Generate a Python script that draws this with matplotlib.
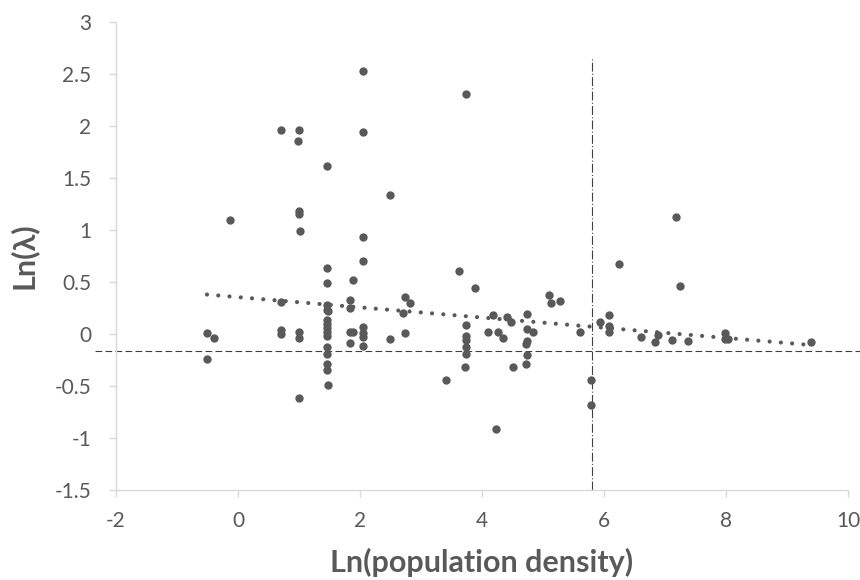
import numpy as np
import matplotlib.pyplot as plt

# values
ln_density = [
    -0.51, -0.39, -0.51, -0.13, 0.70, 0.70, 0.70, 0.70, 1.00, 0.99,
    1.00, 1.00, 1.02, 1.00, 1.00, 1.00, 1.45, 1.45, 1.45, 1.45,
    1.45, 1.47, 1.45, 1.45, 1.45, 1.45, 1.45, 1.45, 1.45, 1.45,
    1.45, 1.47, 1.83, 1.83, 1.89, 1.83, 1.89, 1.83, 2.05, 2.05,
    2.05, 2.05, 2.05, 2.05, 2.05, 2.05, 2.49, 2.49, 2.73, 2.82,
    2.70, 2.73, 3.41, 3.62, 3.74, 3.74, 3.74, 3.74, 3.74, 3.74,
    3.72, 3.88, 4.09, 4.18, 4.23, 4.26, 4.35, 4.41, 4.48, 4.50,
    4.74, 4.74, 4.84, 4.74, 4.72, 4.74, 4.72, 5.09, 5.13, 5.28,
    5.60, 5.79, 5.79, 5.94, 6.09, 6.09, 6.09, 6.25, 6.60, 6.84,
    6.88, 7.12, 7.18, 7.24, 7.38, 7.98, 7.98, 8.04, 9.40,
]
ln_lambda = [
    0.01, -0.04, -0.24, 1.10, 1.96, 0.31, 0.04, 0.00, 1.96, 1.86,
    1.18, 1.15, 0.99, 0.02, -0.04, -0.61, 1.62, 0.64, 0.49, 0.28,
    0.23, 0.22, 0.14, 0.10, 0.06, 0.02, -0.02, -0.12, -0.19, -0.29,
    -0.35, -0.49, 0.33, 0.25, 0.52, 0.02, 0.02, -0.09, 2.53, 1.94,
    0.93, 0.70, 0.07, 0.01, -0.03, -0.11, 1.34, -0.05, 0.36, 0.30,
    0.20, 0.01, -0.44, 0.61, 2.31, 0.09, -0.02, -0.06, -0.12, -0.19,
    -0.32, 0.44, 0.02, 0.18, -0.91, 0.02, -0.04, 0.16, 0.12, -0.32,
    0.19, 0.05, 0.02, -0.07, -0.10, -0.20, -0.29, 0.38, 0.30, 0.32,
    0.02, -0.44, -0.68, 0.12, 0.18, 0.08, 0.02, 0.67, -0.03, -0.08,
    -0.01, -0.06, 1.13, 0.46, -0.07, 0.01, -0.05, -0.05, -0.08,
]

# linear trend as drawn in the reference (some points overlap there)
trend_slope = -0.049
trend_intercept = 0.355

# reference lines
density_cut = 5.8
lambda_cut = -0.16
cut_top = 2.65

x_ticks = [-2, 0, 2, 4, 6, 8, 10]
y_ticks = [-1.5, -1, -0.5, 0, 0.5, 1, 1.5, 2, 2.5, 3]

GREY = "#595959"
AXIS_GREY = "#d9d9d9"

plt.rcParams["font.family"] = ["Lato", "DejaVu Sans"]

fig = plt.figure(figsize=(8.6, 5.8), dpi=100)
ax = fig.add_axes([0.135, 0.155, 0.851, 0.807])

x = np.array(ln_density)
y = np.array(ln_lambda)

ax.scatter(x, y, s=36, color=GREY, linewidths=0, zorder=3)

tx = np.array([x.min(), x.max()])
ax.plot(tx, trend_intercept + trend_slope * tx, color=GREY, lw=3.0,
        linestyle=(0, (0.01, 2.7)), dash_capstyle="round", zorder=2)

ax.plot([-2.35, 10.2], [lambda_cut, lambda_cut], color="#404040", lw=0.8,
        linestyle=(0, (6, 3)), clip_on=False, zorder=1)
ax.plot([density_cut, density_cut], [-1.5, cut_top], color="#404040", lw=0.8,
        linestyle=(0, (8, 2, 1, 2)), zorder=1)

ax.set_xlim(-2, 10)
ax.set_ylim(-1.5, 3)
ax.set_xticks(x_ticks)
ax.set_yticks(y_ticks)
ax.set_xticklabels([f"{t:g}" for t in x_ticks])
ax.set_yticklabels([f"{t:g}" for t in y_ticks])

for side in ["top", "right"]:
    ax.spines[side].set_visible(False)
for side in ["left", "bottom"]:
    ax.spines[side].set_color(AXIS_GREY)
    ax.spines[side].set_linewidth(1.0)

ax.tick_params(axis="both", colors=AXIS_GREY, labelcolor=GREY,
               labelsize=15, length=5, width=1.0)
ax.tick_params(axis="y", pad=13)
ax.tick_params(axis="x", pad=10)

ax.set_xlabel("Ln(population density)", fontsize=22, fontweight="bold",
              color=GREY, labelpad=12)
ax.set_ylabel("Ln(λ)", fontsize=22, fontweight="bold", color=GREY,
              labelpad=12)

fig.savefig("out.png", dpi=100)
